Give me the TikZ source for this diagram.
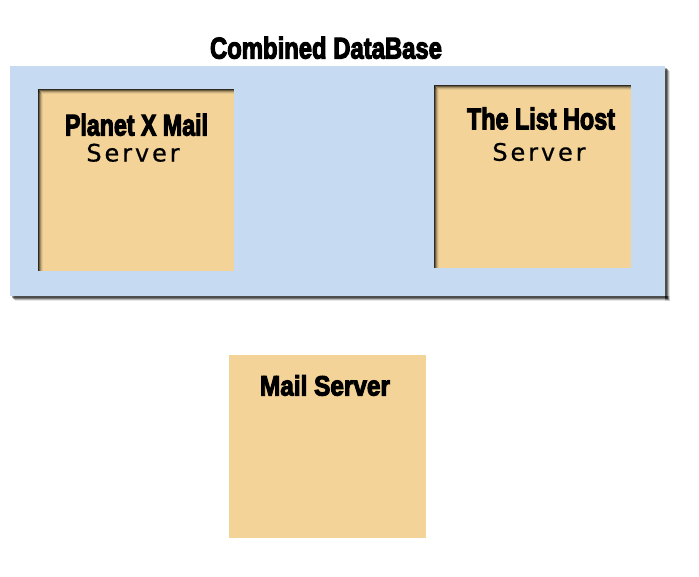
\documentclass[tikz,border=0pt]{standalone}
\usepackage{fontspec}
\usepackage{graphicx}
\setmainfont{Liberation Sans}
\newfontfamily\impactish[FakeBold=4]{Liberation Sans Bold}
\newfontfamily\serverfont[FakeBold=0.6]{DejaVu Sans}
\newcommand\impt[3]{\resizebox{#1}{#2\height}{\impactish\fontsize{30}{36}\selectfont #3}}
\newcommand\srvword{{\serverfont\fontsize{24}{28}\selectfont S\kern2.9pt e\kern2.9pt r\kern2.9pt v\kern2.9pt e\kern2.9pt r}}
\definecolor{dbblue}{RGB}{198,218,241}
\definecolor{srvtan}{RGB}{243,211,152}
\tikzset{
  dbbox/.style={rectangle, fill=dbblue, draw=none, inner sep=0pt, anchor=north west},
  srvbox/.style={rectangle, fill=srvtan, draw=none, inner sep=0pt, anchor=north west,
     minimum width=196.5pt, minimum height=182.5pt},
  lbl/.style={inner sep=0pt, anchor=base, text=black},
}
\newcommand\innershadow[1]{%
  \foreach \i/\op in {0/0.8,1/0.55,2/0.33,3/0.16,4/0.06}{%
    \draw[black, opacity=\op, line width=1pt]
      ([shift={(0,\i+0.5)}]#1.north west) -- ([shift={(0,\i+0.5)}]#1.north east);
    \draw[black, opacity=\op, line width=1pt]
      ([shift={(\i+0.5,\i+1)}]#1.north west) -- ([shift={(\i+0.5,0)}]#1.south west);
  }%
}
\begin{document}
\begin{tikzpicture}[x=1pt,y=-1pt]
\useasboundingbox (0,0) rectangle (699,576);
\fill[white] (0,0) rectangle (699,576);

% title
\node[lbl] (title) at (326,58.5) {\impt{232pt}{1}{Combined DataBase}};

% database box with drop shadow
\node[dbbox, minimum width=655.5pt, minimum height=230.5pt] (db) at (9.5,65.5) {};
\foreach \s/\op in {5/0.10,4/0.20,3/0.35,2/0.35}{
  \fill[black, opacity=\op]
    ([shift={(\s,\s)}]db.north east) rectangle ([shift={(0,\s)}]db.south east);
}
\foreach \s/\op in {5/0.10,4/0.20,3/0.35,2/0.35}{
  \fill[black, opacity=\op]
    ([shift={(\s,0)}]db.south west) rectangle ([shift={(\s,\s)}]db.south east);
}
\node[dbbox, minimum width=655.5pt, minimum height=230.5pt] (dbtop) at (9.5,65.5) {};

% servers inside the database
\node[srvbox] (planet) at (37.5,88.5) {};
\innershadow{planet}
\node[srvbox] (listhost) at (434,85) {};
\innershadow{listhost}

\node[lbl] (planetname) at (136.5,135.5) {\impt{143pt}{1}{Planet X Mail}};
\node[lbl] (planetsrv) at (133,161.5) {\srvword};
\node[lbl] (listname) at (541,129.3) {\impt{148pt}{1}{The List Host}};
\node[lbl] (listsrv) at (539,160.7) {\srvword};

% standalone mail server
\node[srvbox, minimum width=197pt, minimum height=183pt] (mail) at (229,355) {};
\node[lbl] (mailname) at (325,395.5) {\impt{130pt}{0.93}{Mail Server}};
\end{tikzpicture}
\end{document}
